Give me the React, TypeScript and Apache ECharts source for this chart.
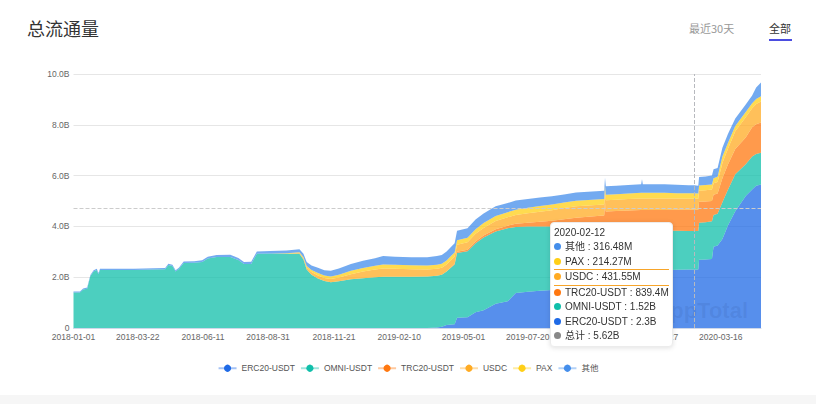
import React, { useEffect, useRef } from 'react';
import * as echarts from 'echarts';

// Sample dates (irregular, denser where the curves change)
const dates = [
  '2018-01-01','2018-01-09','2018-01-13','2018-01-18','2018-01-22','2018-01-26','2018-01-30','2018-02-01','2018-02-03','2018-02-20',
  '2018-03-17','2018-04-11','2018-04-25','2018-04-29','2018-05-04','2018-05-08','2018-05-12','2018-05-18','2018-05-31','2018-06-10',
  '2018-06-17','2018-06-28','2018-07-15','2018-07-25','2018-08-01','2018-08-10','2018-08-17','2018-09-03','2018-09-23','2018-10-09',
  '2018-10-14','2018-10-18','2018-10-24','2018-11-01','2018-11-09','2018-11-17','2018-11-27','2018-12-12','2018-12-27','2019-01-11',
  '2019-01-21','2019-02-05','2019-02-25','2019-03-17','2019-03-29','2019-04-04','2019-04-10','2019-04-16','2019-04-20','2019-04-23',
  '2019-05-06','2019-05-16','2019-05-26','2019-06-10','2019-06-25','2019-07-05','2019-07-20','2019-08-04','2019-08-19','2019-09-03',
  '2019-09-18','2019-10-03','2019-10-18','2019-10-23','2019-10-24','2019-10-25','2019-11-07','2019-11-22','2019-12-08','2019-12-09',
  '2019-12-10','2019-12-22','2020-01-06','2020-01-21','2020-02-05','2020-02-12','2020-02-17','2020-02-18','2020-02-26','2020-03-05',
  '2020-03-07','2020-03-12','2020-03-18','2020-03-25','2020-04-03','2020-04-16','2020-04-24','2020-04-29','2020-05-05',
];

// Values in millions
const erc20 = [
  0,0,0,0,0,0,0,0,0,0,
  0,0,0,0,0,0,0,0,0,0,
  0,0,0,0,0,0,0,0,0,0,
  0,0,0,0,0,0,0,0,0,0,
  0,0,0,0,20,50,120,140,150,400,
  420,620,700,950,1050,1380,1430,1470,1500,1600,
  1700,1780,1820,1830,1830,1850,1950,2050,2150,2150,
  2160,2220,2270,2290,2300,2300,2300,2690,2700,2720,
  3200,3250,3500,4050,4600,5200,5450,5600,5650,
];
const omni = [
  1400,1400,1520,1550,2050,2220,2280,2120,2280,2280,
  2280,2300,2310,2480,2440,2220,2320,2560,2570,2600,
  2740,2800,2800,2680,2520,2520,2920,2930,2920,2920,
  2700,2300,2100,1950,1850,1800,1840,1920,1960,2000,
  2020,2020,2020,2030,2040,2050,2100,2250,2350,2550,
  2600,2720,2860,2850,2880,2600,2570,2530,2500,2400,
  2300,2220,2180,2170,2170,2000,1900,1800,1700,1700,
  1690,1620,1560,1540,1520,1520,1520,1450,1460,1480,
  1250,1250,1450,1400,1450,1250,1300,1250,1250,
];
const trc20 = [
  0,0,0,0,0,0,0,0,0,0,
  0,0,0,0,0,0,0,0,0,0,
  0,0,0,0,0,0,0,0,0,0,
  0,0,0,0,0,0,0,0,0,0,
  0,0,0,0,0,0,0,20,30,50,
  60,70,80,90,100,120,140,180,220,280,
  340,380,420,430,950,740,760,780,800,800,
  800,810,820,830,838,839.4,840,830,820,800,
  800,800,950,1000,1000,1050,1150,1170,1190,
];
const usdc = [
  0,0,0,0,0,0,0,0,0,0,
  0,0,0,0,0,0,0,0,0,0,
  0,0,0,0,0,0,0,0,0,30,
  50,80,100,120,120,130,150,200,260,300,
  320,310,290,270,270,270,280,280,280,280,
  300,300,300,320,330,350,380,400,420,440,
  450,440,430,430,430,440,440,450,450,450,
  450,450,450,440,432,431.55,430,430,440,450,
  450,450,600,620,700,800,750,800,830,
];
const pax = [
  0,0,0,0,0,0,0,0,0,0,
  0,0,0,0,0,0,0,0,0,0,
  0,0,0,0,0,0,0,0,20,30,
  40,60,80,100,100,100,110,130,140,150,
  160,160,160,160,160,160,160,160,160,170,
  170,180,190,200,200,210,210,220,220,220,
  220,220,220,220,220,220,220,220,220,220,
  220,220,220,210,214,214.27,210,210,210,200,
  200,200,250,220,200,200,200,200,200,
];
const others = [
  40,40,40,40,40,50,50,50,50,50,
  50,50,50,50,50,50,50,60,60,70,
  70,70,80,80,80,90,90,100,110,120,
  130,160,180,200,200,220,240,270,290,300,
  330,320,320,330,340,340,350,360,370,380,
  380,380,380,380,360,360,350,340,330,320,
  320,320,320,320,320,330,330,330,340,540,
  340,340,340,330,318,316.48,300,330,330,350,
  350,350,350,360,300,300,300,450,550,
];

const seriesNames = ['ERC20-USDT', 'OMNI-USDT', 'TRC20-USDT', 'USDC', 'PAX', '其他'];
const seriesColors = ['#1f6ae6', '#10bfaa', '#ff7810', '#ffab23', '#ffcf16', '#448eeb'];
const allSeries = [erc20, omni, trc20, usdc, pax, others];

const xTickLabels = [
  '2018-01-01','2018-03-22','2018-06-11','2018-08-31','2018-11-21','2019-02-10',
  '2019-05-01','2019-07-20','2019-10-08','2019-12-27','2020-03-16',
];

const hoverDate = '2020-02-12';
const hoverValue = 4730; // cursor height (M)

const FONT = '"Liberation Sans", Arial, "Noto Sans CJK SC", sans-serif';

const toTs = (s: string) => {
  const [y, m, d] = s.split('-').map(Number);
  return new Date(y, m - 1, d).getTime();
};
const pad = (n: number) => String(n).padStart(2, '0');
const fmtDate = (ts: number) => {
  const d = new Date(ts);
  return `${d.getFullYear()}-${pad(d.getMonth() + 1)}-${pad(d.getDate())}`;
};
const fmtVal = (v: number) =>
  v >= 1000 ? `${parseFloat((v / 1000).toFixed(2))}B` : `${parseFloat(v.toFixed(2))}M`;

const tooltipFormatter = (params: any) => {
  const arr = Array.isArray(params) ? params : [params];
  const idx = arr[0].dataIndex;
  const vals = allSeries.map((s) => s[idx]);
  let cum = 0;
  let hi = -1;
  vals.forEach((v, i) => {
    if (hi < 0 && hoverValue >= cum && hoverValue < cum + v) hi = i;
    cum += v;
  });
  const dot = (c: string) =>
    `<span style="display:inline-block;width:7px;height:7px;border-radius:50%;background:${c};margin-right:4px;vertical-align:0px"></span>`;
  const row = (c: string, text: string, hl: boolean) =>
    `<div style="line-height:14.5px;white-space:nowrap;${
      hl ? 'border-top:1.5px solid #f7a52a;border-bottom:1.5px solid #f7a52a;' : ''
    }">${dot(c)}${text}</div>`;
  let html = `<div style="font-size:10px;color:#333;font-family:${FONT.replace(/"/g, "'")}">`;
  html += `<div style="line-height:15px">${dates[idx]}</div>`;
  for (let i = seriesNames.length - 1; i >= 0; i--) {
    html += row(seriesColors[i], `${seriesNames[i]} : ${fmtVal(vals[i])}`, i === hi);
  }
  html += row('#888', `总计 : ${fmtVal(cum)}`, false);
  html += '</div>';
  return html;
};

export default function App() {
  const ref = useRef<HTMLDivElement>(null);
  useEffect(() => {
    const chart = echarts.init(ref.current!, undefined, { renderer: 'svg' });
    const option: any = {
      animation: false,
      textStyle: { fontFamily: FONT },
      grid: { left: 73.5, right: 55, top: 74, bottom: 76 },
      xAxis: {
        type: 'value',
        min: toTs(dates[0]),
        max: toTs(dates[dates.length - 1]),
        axisLine: { lineStyle: { color: '#cfd8ea' } },
        axisTick: { show: false },
        splitLine: { show: false },
        axisLabel: {
          customValues: xTickLabels.map(toTs),
          formatter: (v: number) => fmtDate(v),
          color: '#666',
          fontSize: 8.5,
          margin: 5,
          hideOverlap: false,
        },
      },
      yAxis: {
        type: 'value',
        min: 0,
        max: 10000,
        interval: 2000,
        axisLine: { show: false },
        axisTick: { show: false },
        splitLine: { lineStyle: { color: '#e6e6e6' } },
        axisLabel: {
          formatter: (v: number) => (v === 0 ? '0' : `${(v / 1000).toFixed(1)}B`),
          color: '#666',
          fontSize: 8.5,
          margin: 4,
        },
      },
      legend: {
        data: seriesNames,
        top: 359,
        left: 'center',
        itemWidth: 18,
        itemHeight: 9,
        itemGap: 5,
        textStyle: { fontSize: 8.5, color: '#555' },
        lineStyle: { width: 2, opacity: 0.4 },
      },
      tooltip: {
        trigger: 'axis',
        axisPointer: {
          type: 'cross',
          snap: true,
          label: { show: false },
          crossStyle: { color: '#cccccc', width: 1, type: 'dashed' },
        },
        alwaysShowContent: true,
        transitionDuration: 0,
        position: [550, 222],
        backgroundColor: '#fff',
        borderColor: '#ececec',
        borderWidth: 1,
        padding: [2, 3],
        extraCssText: 'box-shadow: 0 1px 5px rgba(0,0,0,0.12); border-radius: 4px;',
        formatter: tooltipFormatter,
      },
      series: seriesNames.map((name, i) => ({
        name,
        type: 'line',
        stack: 'total',
        symbol: 'none',
        // amount first so that stacking happens on the value (y) dimension
        encode: { x: 1, y: 0 },
        data: dates.map((d, j) => [allSeries[i][j], toTs(d)]),
        lineStyle: { width: 0 },
        areaStyle: { opacity: 0.75 },
        itemStyle: { color: seriesColors[i] },
        emphasis: { disabled: true },
      })),
      graphic: [
        {
          type: 'text', x: 27, y: 28,
          style: { text: '总流通量', fontSize: 18, fill: '#333', fontFamily: '"Noto Sans CJK SC", sans-serif', verticalAlign: 'middle' },
        },
        {
          type: 'text', x: 689, y: 28,
          style: { text: '最近30天', fontSize: 11, fill: '#999', fontFamily: '"Noto Sans CJK SC", sans-serif', verticalAlign: 'middle' },
        },
        {
          type: 'text', x: 769, y: 28,
          style: { text: '全部', fontSize: 11, fill: '#333', fontFamily: '"Noto Sans CJK SC", sans-serif', verticalAlign: 'middle' },
        },
        { type: 'rect', shape: { x: 769, y: 39, width: 23, height: 2 }, style: { fill: '#4b4de0' } },
        { type: 'rect', shape: { x: 0, y: 395, width: 816, height: 9 }, style: { fill: '#f6f6f6' } },
        {
          type: 'text', x: 748, y: 310, z: 100,
          style: { text: 'DAppTotal', fontSize: 22, fontWeight: 'bold', fill: 'rgba(30,50,110,0.1)', align: 'right', verticalAlign: 'middle' },
        },
      ],
    };
    chart.setOption(option);
    const show = () => {
      const px = chart.convertToPixel({ xAxisIndex: 0 }, toTs(hoverDate));
      const py = chart.convertToPixel({ yAxisIndex: 0 }, hoverValue);
      chart.dispatchAction({ type: 'showTip', x: px, y: py });
    };
    show();
    const t = setTimeout(show, 30);
    return () => {
      clearTimeout(t);
      chart.dispose();
    };
  }, []);
  return (
    <div
      ref={ref}
      style={{ position: 'absolute', left: 0, top: 0, width: 816, height: 404, background: '#fff' }}
    />
  );
}
